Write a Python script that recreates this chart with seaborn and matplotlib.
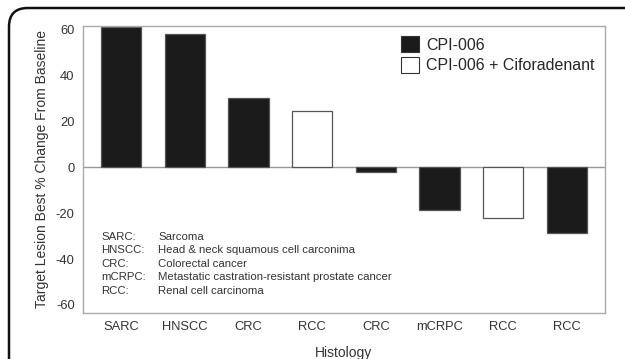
import matplotlib
matplotlib.use("Agg")
import matplotlib.pyplot as plt
import seaborn as sns
import pandas as pd
from matplotlib.patches import FancyBboxPatch, Patch

categories = ["SARC", "HNSCC", "CRC", "RCC", "CRC", "mCRPC", "RCC", "RCC"]
values = [61, 58, 30, 24.5, -2, -18.5, -22, -28.5]
treatment = ["CPI-006", "CPI-006", "CPI-006", "CPI-006 + Ciforadenant",
             "CPI-006", "CPI-006", "CPI-006 + Ciforadenant", "CPI-006"]
yticks = [60, 40, 20, 0, -20, -40, -60]
abbrevs = ["SARC:", "HNSCC:", "CRC:", "mCRPC:", "RCC:"]
meanings = ["Sarcoma", "Head & neck squamous cell carconima", "Colorectal cancer",
            "Metastatic castration-resistant prostate cancer", "Renal cell carcinoma"]

sns.set_style("white")
plt.rcParams['font.family'] = ['Liberation Sans', 'DejaVu Sans']

df = pd.DataFrame({"pos": [str(i) for i in range(len(values))],
                   "value": values, "treatment": treatment})

fig = plt.figure(figsize=(6.25, 3.59), dpi=100)
ax = fig.add_axes([83/625, 1-313/359, (605-83)/625, (313-26)/359])

palette = {"CPI-006": "#1b1b1b", "CPI-006 + Ciforadenant": "#ffffff"}
sns.barplot(data=df, x="pos", y="value", hue="treatment", dodge=False,
            palette=palette, width=0.63, ax=ax, legend=False, linewidth=0.9,
            edgecolor="#555555")

ax.set_xlim(-0.6, 7.6)
ax.set_ylim(-63.5, 61.5)
ax.set_yticks(yticks)
ax.set_yticklabels([str(t) for t in yticks])
ax.set_xticks(range(len(categories)))
ax.set_xticklabels(categories)
ax.tick_params(axis='both', length=0, labelsize=9.3, colors="#333333")
ax.tick_params(axis='x', pad=6)
ax.tick_params(axis='y', pad=6)
ax.axhline(0, color="#999999", lw=1.0, zorder=0.5)
for s in ax.spines.values():
    s.set_color("#aaaaaa")
    s.set_linewidth(1.0)

ax.set_ylabel("Target Lesion Best % Change From Baseline", fontsize=10, color="#333333", labelpad=5)
ax.set_xlabel("Histology", fontsize=10, color="#333333", labelpad=9)

handles = [Patch(facecolor=palette[k], edgecolor="#333333", linewidth=0.8) for k in palette]
leg = ax.legend(handles, list(palette.keys()), loc="upper right", frameon=False,
                fontsize=11.5, handlelength=1.1, handleheight=1.2, handletextpad=0.45,
                labelspacing=0.25, bbox_to_anchor=(1.007, 1.015))

y0 = 237
for i, (a, m) in enumerate(zip(abbrevs, meanings)):
    yy = 1 - (y0 + i * 13.4) / 359
    fig.text(101/625, yy, a, fontsize=8.2, color="#333333", va="center", ha="left")
    fig.text(158/625, yy, m, fontsize=8.2, color="#333333", va="center", ha="left")

border = FancyBboxPatch((9/625, -0.2), 1.2, 1.2 - 8/359, transform=fig.transFigure,
                        boxstyle="round,pad=0,rounding_size=0.03", fill=False,
                        edgecolor="#111111", linewidth=1.8, mutation_aspect=625/359)
fig.patches.append(border)

fig.savefig("out.png", dpi=100)
